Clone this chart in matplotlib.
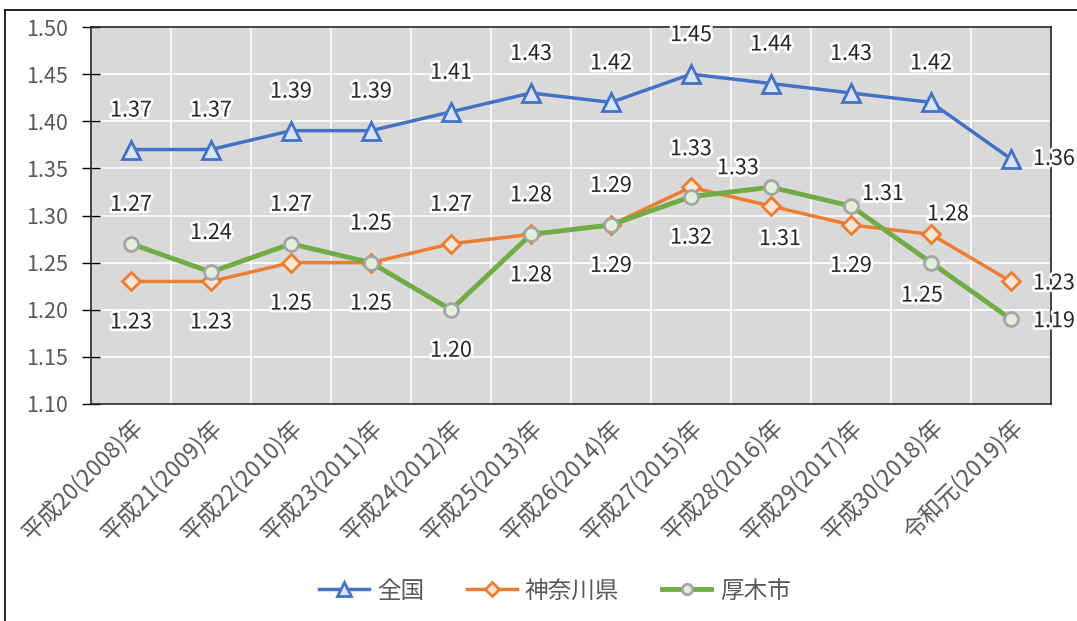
import matplotlib
matplotlib.use("Agg")
import matplotlib.pyplot as plt
from matplotlib.lines import Line2D
import matplotlib.patheffects as pe

plt.rcParams['font.family'] = ['Noto Sans CJK JP', 'DejaVu Sans']

categories = ["平成20(2008)年", "平成21(2009)年", "平成22(2010)年", "平成23(2011)年",
              "平成24(2012)年", "平成25(2013)年", "平成26(2014)年", "平成27(2015)年",
              "平成28(2016)年", "平成29(2017)年", "平成30(2018)年", "令和元(2019)年"]
zenkoku = [1.37, 1.37, 1.39, 1.39, 1.41, 1.43, 1.42, 1.45, 1.44, 1.43, 1.42, 1.36]
kanagawa = [1.23, 1.23, 1.25, 1.25, 1.27, 1.28, 1.29, 1.33, 1.31, 1.29, 1.28, 1.23]
atsugi = [1.27, 1.24, 1.27, 1.25, 1.20, 1.28, 1.29, 1.32, 1.33, 1.31, 1.25, 1.19]
series_names = ["全国", "神奈川県", "厚木市"]
yticks = [1.10, 1.15, 1.20, 1.25, 1.30, 1.35, 1.40, 1.45, 1.50]

# label offsets in pixels (dx, dy; dy positive = up)
U = (0, 39)
D = (0, -41)
off_z = [U] * 11 + [(43, 0)]
off_k = [D, D, D, D, U, D, D, (0, 38), (9, -33), D, (17, 20), (43, -2)]
off_a = [U, U, U, U, D, U, U, (0, -41), (-33, 19), (32, 12), (-9, -33), (43, -2)]

fig = plt.figure(figsize=(10.77, 6.21), dpi=100)
ax = fig.add_axes([91/1077, 1-404/621, 960/1077, 377/621])
ax.set_facecolor('#D9D9D9')

x = list(range(len(categories)))
styles = [
    dict(data=zenkoku, color='#4472C4', marker='^', mfc='#DAE3F3', mec='#4472C4', ms=12.5, lw=2.5, mew=2, off=off_z),
    dict(data=kanagawa, color='#ED7D31', marker='D', mfc='#FBE5D6', mec='#ED7D31', ms=9, lw=2.5, mew=2, off=off_k),
    dict(data=atsugi, color='#70AD47', marker='o', mfc='#E2F0D9', mec='#A5A5A5', ms=10, lw=3.5, mew=2, off=off_a),
]
handles = []
for name, s in zip(series_names, styles):
    ax.plot(x, s['data'], color=s['color'], lw=s['lw'], marker=s['marker'],
            mfc=s['mfc'], mec=s['mec'], ms=s['ms'], mew=s['mew'], zorder=3)
    handles.append(Line2D([0], [0], color=s['color'], lw=s['lw'], marker=s['marker'],
                          mfc=s['mfc'], mec=s['mec'], ms=s['ms']*0.75, mew=s['mew'], label=name))

for s in styles:
    for xi, v, (dx, dy) in zip(x, s['data'], s['off']):
        ax.annotate(f"{v:.2f}", (xi, v), xytext=(dx*0.72, dy*0.72), textcoords='offset points',
                    ha='center', va='center', fontsize=15.5, color='#262626', zorder=5,
                    annotation_clip=False,
                    path_effects=[pe.withStroke(linewidth=4, foreground='white')])

ax.set_xlim(-0.5, len(categories)-0.5)
ax.set_ylim(1.10, 1.50)
ax.set_yticks(yticks)
ax.set_yticklabels([f"{t:.2f}" for t in yticks], fontsize=15.5, color='#595959')
ax.set_xticks(x)
ax.set_xticklabels(categories, rotation=45, ha='right', va='top', rotation_mode='anchor',
                   fontsize=16.5, color='#595959')
ax.set_xticks([i + 0.5 for i in x[:-1]], minor=True)
ax.tick_params(axis='x', which='both', length=0, pad=8)
ax.tick_params(axis='y', length=13, width=1, color='black', direction='inout', pad=10)
ax.grid(True, axis='y', which='major', color='white', lw=1.2, zorder=1)
ax.grid(True, axis='x', which='minor', color='white', lw=1.2, zorder=1)
ax.set_axisbelow(True)
for sp in ax.spines.values():
    sp.set_color('#262626')
    sp.set_linewidth(1.2)

ax.legend(handles=handles, loc='center', bbox_to_anchor=(555/1077, 1-591/621),
          bbox_transform=fig.transFigure, ncol=3, frameon=False, fontsize=17,
          handlelength=2.1, columnspacing=1.8, handletextpad=0.35, labelcolor='#595959')

fig.add_artist(Line2D([5/1077, 1.0], [1-10/621, 1-10/621], color='black', lw=1.2, transform=fig.transFigure))
fig.add_artist(Line2D([5/1077, 5/1077], [0, 1-10/621], color='black', lw=1.2, transform=fig.transFigure))

fig.savefig('out.png', dpi=100)
